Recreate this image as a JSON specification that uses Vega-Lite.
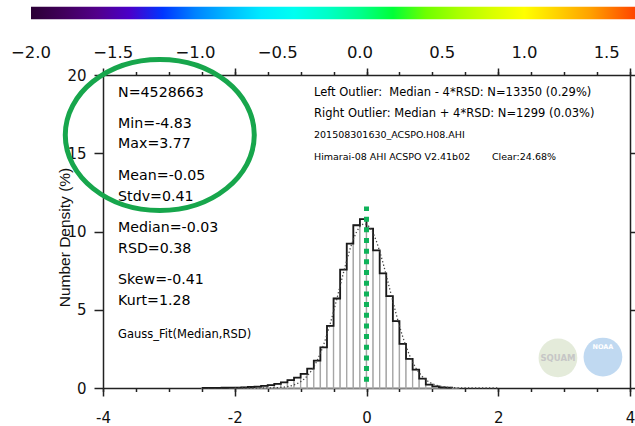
{
  "$schema": "https://vega.github.io/schema/vega-lite/v6.json",
  "width": 527,
  "height": 313,
  "autosize": {"type": "none"},
  "padding": {"left": 103, "top": 75, "right": 5, "bottom": 38},
  "background": "white",
  "config": {
    "view": {"stroke": null},
    "font": "DejaVu Sans",
    "axis": {"domainColor": "#222222", "tickColor": "#222222", "domainWidth": 1.5, "tickWidth": 1.5, "labelColor": "#111111", "grid": false, "labelFont": "DejaVu Sans"}
  },
  "datasets": {
    "hist": [
      {"bin_start": -2.5, "bin_end": -2.4, "pct": 0.005},
      {"bin_start": -2.4, "bin_end": -2.3, "pct": 0.007},
      {"bin_start": -2.3, "bin_end": -2.2, "pct": 0.01},
      {"bin_start": -2.2, "bin_end": -2.1, "pct": 0.015},
      {"bin_start": -2.1, "bin_end": -2.0, "pct": 0.02},
      {"bin_start": -2.0, "bin_end": -1.9, "pct": 0.03},
      {"bin_start": -1.9, "bin_end": -1.8, "pct": 0.045},
      {"bin_start": -1.8, "bin_end": -1.7, "pct": 0.065},
      {"bin_start": -1.7, "bin_end": -1.6, "pct": 0.09},
      {"bin_start": -1.6, "bin_end": -1.5, "pct": 0.13},
      {"bin_start": -1.5, "bin_end": -1.4, "pct": 0.18},
      {"bin_start": -1.4, "bin_end": -1.3, "pct": 0.26},
      {"bin_start": -1.3, "bin_end": -1.2, "pct": 0.36},
      {"bin_start": -1.2, "bin_end": -1.1, "pct": 0.5},
      {"bin_start": -1.1, "bin_end": -1.0, "pct": 0.66},
      {"bin_start": -1.0, "bin_end": -0.9, "pct": 0.9},
      {"bin_start": -0.9, "bin_end": -0.8, "pct": 1.24},
      {"bin_start": -0.8, "bin_end": -0.7, "pct": 1.75},
      {"bin_start": -0.7, "bin_end": -0.6, "pct": 2.6},
      {"bin_start": -0.6, "bin_end": -0.5, "pct": 3.97},
      {"bin_start": -0.5, "bin_end": -0.4, "pct": 5.72},
      {"bin_start": -0.4, "bin_end": -0.3, "pct": 7.56},
      {"bin_start": -0.3, "bin_end": -0.2, "pct": 9.23},
      {"bin_start": -0.2, "bin_end": -0.1, "pct": 10.4},
      {"bin_start": -0.1, "bin_end": 0.0, "pct": 10.79},
      {"bin_start": 0.0, "bin_end": 0.1, "pct": 10.19},
      {"bin_start": 0.1, "bin_end": 0.2, "pct": 8.8},
      {"bin_start": 0.2, "bin_end": 0.3, "pct": 7.33},
      {"bin_start": 0.3, "bin_end": 0.4, "pct": 5.87},
      {"bin_start": 0.4, "bin_end": 0.5, "pct": 4.27},
      {"bin_start": 0.5, "bin_end": 0.6, "pct": 2.82},
      {"bin_start": 0.6, "bin_end": 0.7, "pct": 1.86},
      {"bin_start": 0.7, "bin_end": 0.8, "pct": 1.17},
      {"bin_start": 0.8, "bin_end": 0.9, "pct": 0.6},
      {"bin_start": 0.9, "bin_end": 1.0, "pct": 0.21},
      {"bin_start": 1.0, "bin_end": 1.1, "pct": 0.11},
      {"bin_start": 1.1, "bin_end": 1.2, "pct": 0.04},
      {"bin_start": 1.2, "bin_end": 1.3, "pct": 0.02},
      {"bin_start": 1.3, "bin_end": 1.4, "pct": 0.01}
    ],
    "gauss": [
      {"x": -2.0, "g": 0.0},
      {"x": -1.8, "g": 0.0002},
      {"x": -1.6, "g": 0.002},
      {"x": -1.5, "g": 0.006},
      {"x": -1.4, "g": 0.016},
      {"x": -1.3, "g": 0.039},
      {"x": -1.25, "g": 0.061},
      {"x": -1.2, "g": 0.092},
      {"x": -1.15, "g": 0.136},
      {"x": -1.1, "g": 0.199},
      {"x": -1.05, "g": 0.286},
      {"x": -1.0, "g": 0.404},
      {"x": -0.95, "g": 0.56},
      {"x": -0.9, "g": 0.764},
      {"x": -0.85, "g": 1.023},
      {"x": -0.8, "g": 1.348},
      {"x": -0.75, "g": 1.744},
      {"x": -0.7, "g": 2.218},
      {"x": -0.65, "g": 2.774},
      {"x": -0.6, "g": 3.409},
      {"x": -0.55, "g": 4.116},
      {"x": -0.5, "g": 4.886},
      {"x": -0.45, "g": 5.7},
      {"x": -0.4, "g": 6.536},
      {"x": -0.35, "g": 7.365},
      {"x": -0.3, "g": 8.157},
      {"x": -0.25, "g": 8.879},
      {"x": -0.2, "g": 9.499},
      {"x": -0.15, "g": 9.988},
      {"x": -0.1, "g": 10.322},
      {"x": -0.05, "g": 10.484},
      {"x": 0.0, "g": 10.466},
      {"x": 0.05, "g": 10.269},
      {"x": 0.1, "g": 9.902},
      {"x": 0.15, "g": 9.385},
      {"x": 0.2, "g": 8.742},
      {"x": 0.25, "g": 8.003},
      {"x": 0.3, "g": 7.201},
      {"x": 0.35, "g": 6.368},
      {"x": 0.4, "g": 5.535},
      {"x": 0.45, "g": 4.728},
      {"x": 0.5, "g": 3.969},
      {"x": 0.55, "g": 3.275},
      {"x": 0.6, "g": 2.657},
      {"x": 0.65, "g": 2.117},
      {"x": 0.7, "g": 1.659},
      {"x": 0.75, "g": 1.277},
      {"x": 0.8, "g": 0.966},
      {"x": 0.85, "g": 0.719},
      {"x": 0.9, "g": 0.525},
      {"x": 0.95, "g": 0.377},
      {"x": 1.0, "g": 0.267},
      {"x": 1.05, "g": 0.185},
      {"x": 1.1, "g": 0.126},
      {"x": 1.2, "g": 0.056},
      {"x": 1.3, "g": 0.023},
      {"x": 1.4, "g": 0.009},
      {"x": 1.5, "g": 0.003},
      {"x": 1.7, "g": 0.0002},
      {"x": 2.0, "g": 0.0}
    ],
    "median_line": [{"x": 0, "y": 0.4, "y2": 11.6}],
    "ellipse": [{"x": -3.138, "y": 16.17}],
    "stats": [
      {"label": "N=4528663", "x": -3.771, "y": 18.83},
      {"label": "Min=-4.83", "x": -3.771, "y": 16.89},
      {"label": "Max=3.77", "x": -3.771, "y": 15.57},
      {"label": "Mean=-0.05", "x": -3.771, "y": 13.55},
      {"label": "Stdv=0.41", "x": -3.771, "y": 12.2},
      {"label": "Median=-0.03", "x": -3.771, "y": 10.24},
      {"label": "RSD=0.38", "x": -3.771, "y": 8.9},
      {"label": "Skew=-0.41", "x": -3.771, "y": 6.88},
      {"label": "Kurt=1.28", "x": -3.771, "y": 5.56}
    ],
    "notes_mid": [
      {"label": "Gauss_Fit(Median,RSD)", "x": -3.771, "y": 3.4},
      {"label": "Left Outlier:\u00a0\u00a0Median - 4*RSD: N=13350 (0.29%)", "x": -0.797, "y": 18.86},
      {"label": "Right Outlier: Median + 4*RSD: N=1299 (0.03%)", "x": -0.797, "y": 17.52}
    ],
    "notes_small": [
      {"label": "201508301630_ACSPO.H08.AHI", "x": -0.797, "y": 16.19},
      {"label": "Himarai-08 AHI ACSPO V2.41b02", "x": -0.797, "y": 14.79},
      {"label": "Clear:24.68%", "x": 1.904, "y": 14.79}
    ],
    "colorbar": [{"c": -2.0}, {"c": 2.0}],
    "logo_squam": [{"name": "SQUAM", "x": 2.906, "y": 1.92}],
    "logo_noaa": [{"name": "NOAA", "x": 3.589, "y": 1.98}],
    "logo_noaa_text": [{"name": "NOAA", "x": 3.589, "y": 2.62}]
  },
  "layer": [
    {
      "data": {"name": "hist"},
      "mark": {"type": "rect", "fill": "white", "stroke": "#a6a6a6", "strokeWidth": 1.3},
      "encoding": {
        "x": {"field": "bin_start", "type": "quantitative",
          "scale": {"domain": [-4, 4], "nice": false, "zero": false},
          "axis": {"orient": "bottom", "values": [-4, -2, 0, 2, 4], "tickSize": 8, "labelFontSize": 15, "labelPadding": 14, "labelFlush": false, "labelOverlap": false, "labelExpr": "replace(datum.label, '−', '-')", "title": null}},
        "x2": {"field": "bin_end"},
        "y": {"field": "pct", "type": "quantitative",
          "scale": {"domain": [0, 20], "nice": false, "zero": true},
          "axis": {"orient": "left", "values": [0, 5, 10, 15, 20], "tickSize": 9, "labelPadding": 8, "labelFontSize": 15,
            "title": "Number Density (%)", "titleFont": "Liberation Sans", "titleFontSize": 15.5, "titleFontWeight": "normal", "titleColor": "#111111",
            "titleX": -39, "titleY": 162, "titleAngle": -90, "titleAlign": "center", "titleBaseline": "middle"}},
        "y2": {"datum": 0}
      }
    },
    {
      "data": {"name": "hist"},
      "mark": {"type": "line", "interpolate": "step-after", "color": "#1a1a1a", "strokeWidth": 1.8},
      "encoding": {
        "x": {"field": "bin_start", "type": "quantitative",
          "scale": {"domain": [-4, 4], "nice": false, "zero": false},
          "axis": {"orient": "bottom", "values": [-4, -3.5, -3, -2.5, -2, -1.5, -1, -0.5, 0, 0.5, 1, 1.5, 2, 2.5, 3, 3.5, 4], "tickSize": 3.5, "labels": false, "domain": false, "title": null}},
        "y": {"field": "pct", "type": "quantitative",
          "scale": {"domain": [0, 20], "nice": false},
          "axis": {"orient": "right", "values": [0, 5, 10, 15, 20], "tickSize": 6, "labels": false, "title": null}}
      }
    },
    {
      "data": {"name": "gauss"},
      "mark": {"type": "line", "color": "#444444", "strokeWidth": 1.3, "strokeDash": [1.3, 2.2]},
      "encoding": {
        "x": {"field": "x", "type": "quantitative",
          "scale": {"domain": [-4, 4], "nice": false, "zero": false},
          "axis": {"orient": "top", "values": [-4, -2, 0, 2, 4], "tickSize": 7, "labels": false, "title": null}},
        "y": {"field": "g", "type": "quantitative", "scale": {"domain": [0, 20], "nice": false}, "axis": null}
      }
    },
    {
      "data": {"name": "median_line"},
      "mark": {"type": "rule", "color": "#0fb25a", "strokeWidth": 5, "strokeDash": [5, 5.67]},
      "encoding": {
        "x": {"field": "x", "type": "quantitative",
          "scale": {"domain": [-4, 4], "nice": false, "zero": false},
          "axis": {"orient": "top", "values": [-4, -3.5, -3, -2.5, -2, -1.5, -1, -0.5, 0, 0.5, 1, 1.5, 2, 2.5, 3, 3.5, 4], "tickSize": 3.5, "labels": false, "domain": false, "title": null}},
        "y": {"field": "y", "type": "quantitative", "scale": {"domain": [0, 20], "nice": false}, "axis": null},
        "y2": {"field": "y2"}
      }
    },
    {
      "data": {"name": "logo_squam"},
      "mark": {"type": "circle", "size": 1500, "color": "#e1e9d6", "opacity": 0.9, "clip": false},
      "encoding": {
        "x": {"field": "x", "type": "quantitative", "scale": {"domain": [-4, 4], "nice": false}, "axis": null},
        "y": {"field": "y", "type": "quantitative", "scale": {"domain": [0, 20], "nice": false}, "axis": null}
      }
    },
    {
      "data": {"name": "logo_squam"},
      "mark": {"type": "text", "fontSize": 8.5, "fontWeight": "bold", "color": "#c6c6c6", "align": "center", "baseline": "middle", "clip": false},
      "encoding": {
        "x": {"field": "x", "type": "quantitative", "scale": {"domain": [-4, 4], "nice": false}, "axis": null},
        "y": {"field": "y", "type": "quantitative", "scale": {"domain": [0, 20], "nice": false}, "axis": null},
        "text": {"field": "name"}
      }
    },
    {
      "data": {"name": "logo_noaa"},
      "mark": {"type": "circle", "size": 1500, "color": "#b9d5ef", "opacity": 0.9, "clip": false},
      "encoding": {
        "x": {"field": "x", "type": "quantitative", "scale": {"domain": [-4, 4], "nice": false}, "axis": null},
        "y": {"field": "y", "type": "quantitative", "scale": {"domain": [0, 20], "nice": false}, "axis": null}
      }
    },
    {
      "data": {"name": "logo_noaa_text"},
      "mark": {"type": "text", "fontSize": 6.5, "fontWeight": "bold", "color": "#ffffff", "align": "center", "baseline": "middle", "clip": false},
      "encoding": {
        "x": {"field": "x", "type": "quantitative", "scale": {"domain": [-4, 4], "nice": false}, "axis": null},
        "y": {"field": "y", "type": "quantitative", "scale": {"domain": [0, 20], "nice": false}, "axis": null},
        "text": {"field": "name"}
      }
    },
    {
      "data": {"name": "ellipse"},
      "mark": {"type": "point", "shape": "M -1 0 A 1 0.799 0 1 1 1 0 A 1 0.799 0 1 1 -1 0 Z", "size": 35721, "filled": false, "color": "#17a64c", "strokeWidth": 5, "opacity": 1, "clip": false},
      "encoding": {
        "x": {"field": "x", "type": "quantitative", "scale": {"domain": [-4, 4], "nice": false}, "axis": null},
        "y": {"field": "y", "type": "quantitative", "scale": {"domain": [0, 20], "nice": false}, "axis": null}
      }
    },
    {
      "data": {"name": "stats"},
      "mark": {"type": "text", "align": "left", "baseline": "middle", "font": "DejaVu Sans", "fontSize": 14.2, "color": "#000000", "clip": false},
      "encoding": {
        "x": {"field": "x", "type": "quantitative", "scale": {"domain": [-4, 4], "nice": false}, "axis": null},
        "y": {"field": "y", "type": "quantitative", "scale": {"domain": [0, 20], "nice": false}, "axis": null},
        "text": {"field": "label"}
      }
    },
    {
      "data": {"name": "notes_mid"},
      "mark": {"type": "text", "align": "left", "baseline": "middle", "font": "DejaVu Sans", "fontSize": 11.5, "color": "#000000", "clip": false},
      "encoding": {
        "x": {"field": "x", "type": "quantitative", "scale": {"domain": [-4, 4], "nice": false}, "axis": null},
        "y": {"field": "y", "type": "quantitative", "scale": {"domain": [0, 20], "nice": false}, "axis": null},
        "text": {"field": "label"}
      }
    },
    {
      "data": {"name": "notes_small"},
      "mark": {"type": "text", "align": "left", "baseline": "middle", "font": "DejaVu Sans", "fontSize": 9.5, "color": "#000000", "clip": false},
      "encoding": {
        "x": {"field": "x", "type": "quantitative", "scale": {"domain": [-4, 4], "nice": false}, "axis": null},
        "y": {"field": "y", "type": "quantitative", "scale": {"domain": [0, 20], "nice": false}, "axis": null},
        "text": {"field": "label"}
      }
    },
    {
      "data": {"name": "colorbar"},
      "mark": {"type": "point", "opacity": 0},
      "encoding": {
        "color": {"field": "c", "type": "quantitative",
          "scale": {"domain": [-2.0, -1.6, -1.25, -0.5, 0.25, 1.0, 1.35, 1.7, 2.0],
                    "range": ["#2b0035", "#52008a", "#0000ff", "#00ffff", "#00ff00", "#ffff00", "#ffb000", "#ff2400", "#ff0000"]},
          "legend": {"orient": "none", "legendX": -72, "legendY": -68.3, "direction": "horizontal",
            "gradientLength": 658, "gradientThickness": 12.6, "gradientStrokeWidth": 0, "title": null, "padding": 0,
            "values": [-2, -1.5, -1, -0.5, 0, 0.5, 1, 1.5], "format": ".1f",
            "labelFont": "DejaVu Sans", "labelFontSize": 16.5, "labelColor": "#111111", "labelOffset": 25.7, "labelOverlap": false,
            "encode": {"labels": {"update": {"align": {"value": "center"}}}}}}
      }
    }
  ],
  "resolve": {"axis": {"x": "independent", "y": "independent"}}
}
